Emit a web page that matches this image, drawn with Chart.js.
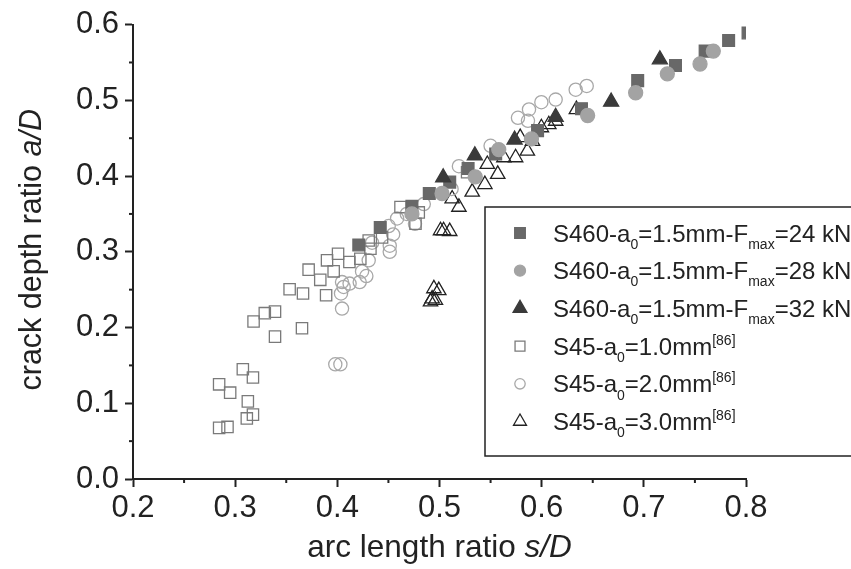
<!DOCTYPE html>
<html>
<head>
<meta charset="utf-8">
<script src="https://cdn.jsdelivr.net/npm/chart.js@4.4.1/dist/chart.umd.min.js"></script>
<style>
html,body{margin:0;padding:0;background:#fff;}
canvas{display:block;}
</style>
</head>
<body>
<canvas id="c" width="851" height="569"></canvas>
<script>
// S460 a0=1.5mm, Fmax=24 kN (filled squares)
const s24X = [0.421,0.442,0.473,0.490,0.510,0.528,0.555,0.596,0.639,0.694,0.731,0.760,0.783,0.802];
const s24Y = [0.309,0.332,0.360,0.377,0.392,0.410,0.429,0.460,0.489,0.526,0.546,0.565,0.579,0.589];
// Fmax=28 kN (filled circles)
const s28X = [0.473,0.5025,0.535,0.558,0.590,0.645,0.692,0.723,0.755,0.768];
const s28Y = [0.350,0.377,0.399,0.435,0.449,0.480,0.510,0.535,0.548,0.565];
// Fmax=32 kN (filled triangles)
const s32X = [0.5036,0.5346,0.5735,0.6137,0.668,0.7157];
const s32Y = [0.398,0.427,0.448,0.478,0.498,0.554];
// S45 a0=1.0mm [86] (open squares)
const a10X = [0.2843,0.2925,0.2843,0.2951,0.3075,0.3174,0.3124,0.3114,0.3174,0.318,0.329,0.339,0.339,0.3654,0.3533,0.3664,0.389,0.3833,0.3719,0.3964,0.3899,0.4007,0.4118,0.4225,0.4307,0.4324,0.4438,0.4618,0.4765,0.4797,0.527];
const a10Y = [0.0675,0.0688,0.125,0.114,0.145,0.134,0.1025,0.080,0.085,0.208,0.219,0.221,0.188,0.199,0.2506,0.245,0.2427,0.263,0.2764,0.2742,0.2887,0.2974,0.2865,0.2908,0.315,0.304,0.319,0.359,0.337,0.352,0.405];
// S45 a0=2.0mm [86] (open circles)
const a20X = [0.398,0.403,0.4046,0.4036,0.4062,0.412,0.4046,0.4219,0.4284,0.4242,0.4307,0.4513,0.4513,0.434,0.4546,0.4503,0.4585,0.476,0.468,0.4846,0.5118,0.519,0.55,0.5768,0.5866,0.5876,0.5997,0.6137,0.6333,0.6441];
const a20Y = [0.1515,0.1515,0.225,0.245,0.2536,0.258,0.260,0.260,0.268,0.274,0.2887,0.300,0.308,0.312,0.323,0.334,0.344,0.337,0.350,0.363,0.383,0.413,0.44,0.477,0.473,0.488,0.4975,0.501,0.514,0.519];
// S45 a0=3.0mm [86] (open triangles)
const a30X = [0.4912,0.4928,0.496,0.4945,0.4993,0.501,0.504,0.510,0.5124,0.519,0.532,0.5444,0.557,0.5468,0.563,0.5745,0.586,0.579,0.591,0.5997,0.607,0.6137,0.634];
const a30Y = [0.234,0.238,0.236,0.2514,0.249,0.328,0.328,0.327,0.370,0.359,0.379,0.389,0.4025,0.4156,0.4244,0.4244,0.433,0.451,0.446,0.464,0.468,0.4726,0.488];

const xTicks = [0.2,0.3,0.4,0.5,0.6,0.7,0.8];
const yTicks = [0.0,0.1,0.2,0.3,0.4,0.5,0.6];
const xMinor = [0.25,0.35,0.45,0.55,0.65,0.75];
const yMinor = [0.05,0.15,0.25,0.35,0.45,0.55];

const FONT = '"Liberation Sans", Arial, Helvetica, sans-serif';
const pts = (xs, ys) => xs.map((x,i)=>({x:x, y:ys[i]}));

// legend text pieces: [text, 'n' | 'sub' | 'sup']
const legendRows = [
  [['S460-a','n'],['0','sub'],['=1.5mm-F','n'],['max','sub'],['=24 kN','n']],
  [['S460-a','n'],['0','sub'],['=1.5mm-F','n'],['max','sub'],['=28 kN','n']],
  [['S460-a','n'],['0','sub'],['=1.5mm-F','n'],['max','sub'],['=32 kN','n']],
  [['S45-a','n'],['0','sub'],['=1.0mm','n'],['[86]','sup']],
  [['S45-a','n'],['0','sub'],['=2.0mm','n'],['[86]','sup']],
  [['S45-a','n'],['0','sub'],['=3.0mm','n'],['[86]','sup']]
];
const legendMarks = [
  {pointStyle:'rect', radius:7.5, fill:'#686868', stroke:'#686868'},
  {pointStyle:'circle', radius:5.5, fill:'#a3a3a3', stroke:'#a3a3a3'},
  {pointStyle:'triangle', radius:8, fill:'#3a3a3a', stroke:'#3a3a3a'},
  {pointStyle:'rect', radius:7, fill:'#fff', stroke:'#7a7a7a'},
  {pointStyle:'circle', radius:5.2, fill:'#fff', stroke:'#a8a8a8'},
  {pointStyle:'triangle', radius:7.5, fill:'#fff', stroke:'#222'}
];

function drawParts(ctx, parts, x, y, size, align) {
  const small = Math.round(size*0.6);
  const fontOf = p => (p[1]==='n' || p[1]==='i') ? ((p[1]==='i'?'italic ':'') + size+'px '+FONT) : (small+'px '+FONT);
  let w = 0;
  parts.forEach(p => { ctx.font = fontOf(p); w += ctx.measureText(p[0]).width; });
  let cx = align==='center' ? x - w/2 : x;
  ctx.textAlign = 'left'; ctx.textBaseline = 'alphabetic';
  parts.forEach(p => {
    ctx.font = fontOf(p);
    let dy = 0;
    if (p[1]==='sub') dy = size*0.3;
    if (p[1]==='sup') dy = -size*0.42;
    ctx.fillText(p[0], cx, y+dy);
    cx += ctx.measureText(p[0]).width;
  });
}

const deco = {
  id: 'deco',
  afterDraw(chart) {
    const ctx = chart.ctx, a = chart.chartArea, xs = chart.scales.x, ys = chart.scales.y;
    ctx.save();
    ctx.strokeStyle = '#222'; ctx.lineWidth = 2;
    xMinor.forEach(v => { const p = xs.getPixelForValue(v); ctx.beginPath(); ctx.moveTo(p, a.bottom); ctx.lineTo(p, a.bottom+4); ctx.stroke(); });
    yMinor.forEach(v => { const p = ys.getPixelForValue(v); ctx.beginPath(); ctx.moveTo(a.left, p); ctx.lineTo(a.left-4, p); ctx.stroke(); });

    // axis titles
    ctx.fillStyle = '#222';
    drawParts(ctx, [['arc length ratio ','n'],['s/D','i']], (a.left+a.right)/2, 557, 31.5, 'center');
    ctx.save();
    ctx.translate(41, (a.top+a.bottom)/2 - 2);
    ctx.rotate(-Math.PI/2);
    drawParts(ctx, [['crack depth ratio ','n'],['a/D','i']], 0, 0, 30.5, 'center');
    ctx.restore();

    // legend box
    ctx.lineWidth = 1.5; ctx.strokeStyle = '#222';
    ctx.fillStyle = '#fff';
    ctx.fillRect(485, 207, 370, 249);
    ctx.strokeRect(485, 207, 370, 249);
    legendRows.forEach((row, i) => {
      const yy = 233 + i*37.7;
      const m = legendMarks[i];
      ctx.fillStyle = m.fill; ctx.strokeStyle = m.stroke; ctx.lineWidth = 1.3;
      Chart.helpers.drawPoint(ctx, {pointStyle:m.pointStyle, radius:m.radius, rotation:0, borderWidth:1.3}, 520, yy);
      ctx.fillStyle = '#222';
      drawParts(ctx, row, 553, yy+8.5, 24, 'left');
    });
    ctx.restore();
  }
};

const common = {showLine:false, pointBorderWidth:1.3, pointHoverRadius:0};
new Chart(document.getElementById('c'), {
  type: 'scatter',
  data: {
    datasets: [
      Object.assign({}, common, {label:'24 kN', data:pts(s24X,s24Y), pointStyle:'rect', pointRadius:8.3, backgroundColor:'#686868', borderColor:'#686868', order:2, clip:0}),
      Object.assign({}, common, {label:'28 kN', data:pts(s28X,s28Y), pointStyle:'circle', pointRadius:7, backgroundColor:'#a3a3a3', borderColor:'#a3a3a3', order:1}),
      Object.assign({}, common, {label:'32 kN', data:pts(s32X,s32Y), pointStyle:'triangle', pointRadius:8.7, backgroundColor:'#3a3a3a', borderColor:'#3a3a3a', order:0}),
      Object.assign({}, common, {label:'1.0mm', data:pts(a10X,a10Y), pointStyle:'rect', pointRadius:8, backgroundColor:'rgba(255,255,255,0)', borderColor:'#7a7a7a', order:3}),
      Object.assign({}, common, {label:'2.0mm', data:pts(a20X,a20Y), pointStyle:'circle', pointRadius:6.6, backgroundColor:'rgba(255,255,255,0)', borderColor:'#a8a8a8', order:4}),
      Object.assign({}, common, {label:'3.0mm', data:pts(a30X,a30Y), pointStyle:'triangle', pointRadius:8.3, backgroundColor:'rgba(255,255,255,0)', borderColor:'#222', order:5})
    ]
  },
  options: {
    responsive: false,
    animation: false,
    events: [],
    layout: {padding: {left:0, top:21.5, right:105, bottom:0}},
    plugins: {legend:{display:false}, tooltip:{enabled:false}},
    scales: {
      x: {
        type:'linear', min:0.2, max:0.8,
        afterBuildTicks: s => { s.ticks = xTicks.map(v=>({value:v})); },
        afterFit: s => { s.height = 90; },
        ticks: {callback: v => v.toFixed(1), font:{family:FONT, size:31}, color:'#222', padding:3, maxRotation:0, autoSkip:false},
        grid: {drawOnChartArea:false, drawTicks:true, tickLength:8, tickColor:'#222', tickWidth:2},
        border: {display:true, color:'#222', width:2}
      },
      y: {
        type:'linear', min:0, max:0.6,
        afterBuildTicks: s => { s.ticks = yTicks.map(v=>({value:v})); },
        afterFit: s => { s.width = 133; },
        ticks: {callback: v => v.toFixed(1), font:{family:FONT, size:31}, color:'#222', padding:6, autoSkip:false},
        grid: {drawOnChartArea:false, drawTicks:true, tickLength:8, tickColor:'#222', tickWidth:2},
        border: {display:true, color:'#222', width:2}
      }
    }
  },
  plugins: [deco]
});
</script>
</body>
</html>
